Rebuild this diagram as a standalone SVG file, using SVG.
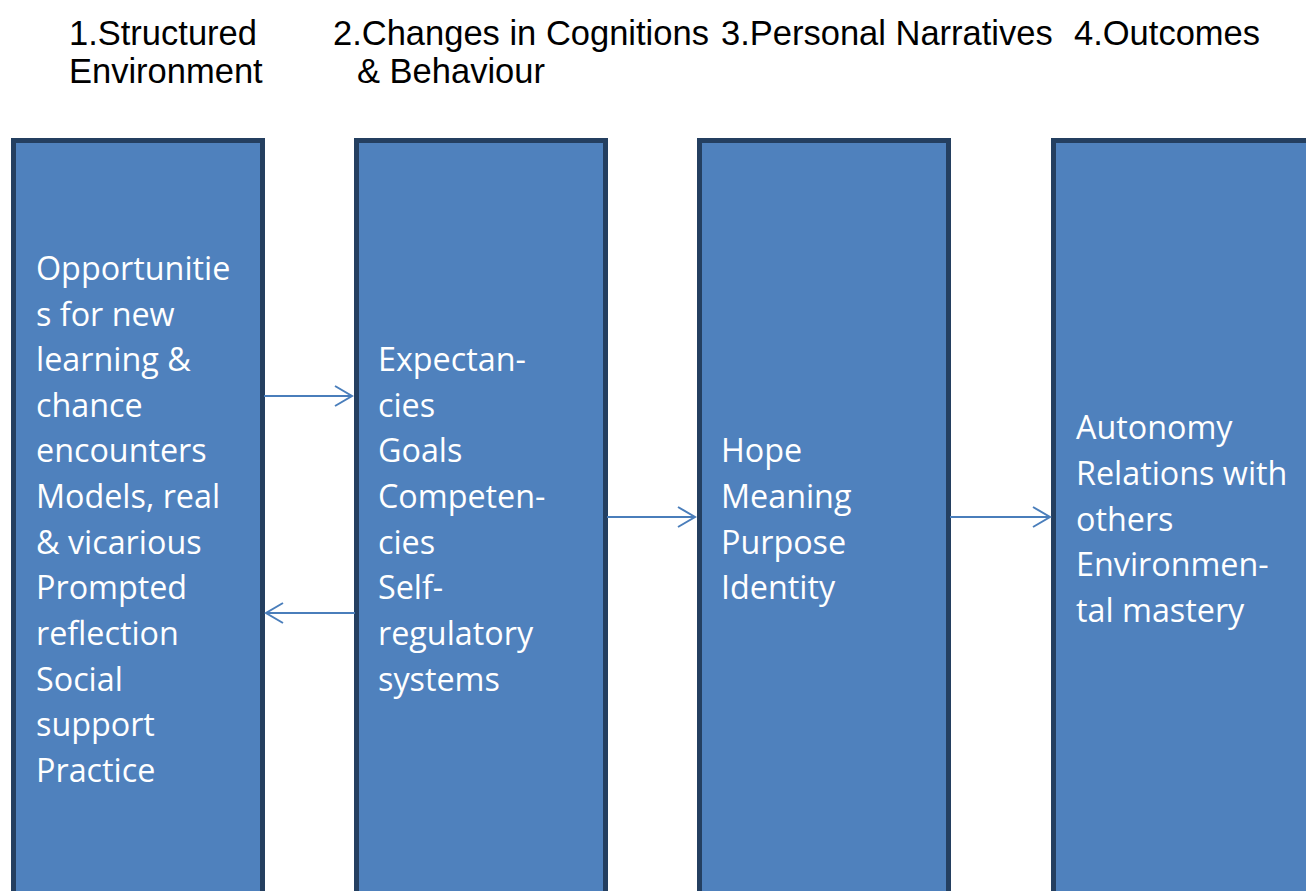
<svg xmlns="http://www.w3.org/2000/svg" width="1306" height="891" viewBox="0 0 1306 891">
<style>
.box{fill:#4F81BD;stroke:#243F60;stroke-width:5}
.t{font-family:"Open Sans","Liberation Sans",sans-serif;font-size:32.3px;fill:#FFFFFF}
.h{font-family:"Liberation Sans",Arial,sans-serif;font-size:34.5px;fill:#000000}
.c{stroke:#4A7EBB;stroke-width:2;fill:none}
</style>
<defs>
<marker id="ah" markerWidth="20" markerHeight="24" refX="18" refY="12" orient="auto" markerUnits="userSpaceOnUse">
<path d="M1,2 L18,12 L1,22" fill="none" stroke="#4A7EBB" stroke-width="2"/>
</marker>
</defs>
<rect width="1306" height="891" fill="#FFFFFF"/>
<g id="headers">
<text class="h" x="69" y="44.5">1.Structured</text>
<text class="h" x="69" y="83">Environment</text>
<text class="h" x="333" y="44.5">2.Changes in Cognitions</text>
<text class="h" x="357" y="83">&amp; Behaviour</text>
<text class="h" x="721" y="44.5">3.Personal Narratives</text>
<text class="h" x="1074" y="44.5">4.Outcomes</text>
</g>
<g id="node1">
<rect class="box" x="13.5" y="140.5" width="249" height="780"/>
<text class="t" x="36" y="280">Opportunitie</text>
<text class="t" x="36" y="326">s for new</text>
<text class="t" x="36" y="371">learning &amp;</text>
<text class="t" x="36" y="417">chance</text>
<text class="t" x="36" y="462">encounters</text>
<text class="t" x="36" y="508">Models, real</text>
<text class="t" x="36" y="554">&amp; vicarious</text>
<text class="t" x="36" y="599">Prompted</text>
<text class="t" x="36" y="645">reflection</text>
<text class="t" x="36" y="691">Social</text>
<text class="t" x="36" y="736">support</text>
<text class="t" x="36" y="782">Practice</text>
</g>
<g id="node2">
<rect class="box" x="356.5" y="140.5" width="249" height="780"/>
<text class="t" x="378" y="371">Expectan-</text>
<text class="t" x="378" y="417">cies</text>
<text class="t" x="378" y="462">Goals</text>
<text class="t" x="378" y="508">Competen-</text>
<text class="t" x="378" y="554">cies</text>
<text class="t" x="378" y="599">Self-</text>
<text class="t" x="378" y="645">regulatory</text>
<text class="t" x="378" y="691">systems</text>
</g>
<g id="node3">
<rect class="box" x="699.5" y="140.5" width="249" height="780"/>
<text class="t" x="721" y="462">Hope</text>
<text class="t" x="721" y="508">Meaning</text>
<text class="t" x="721" y="554">Purpose</text>
<text class="t" x="721" y="599">Identity</text>
</g>
<g id="node4">
<rect class="box" x="1053.5" y="140.5" width="300" height="780"/>
<text class="t" x="1076" y="439">Autonomy</text>
<text class="t" x="1076" y="485">Relations with</text>
<text class="t" x="1076" y="531">others</text>
<text class="t" x="1076" y="576">Environmen-</text>
<text class="t" x="1076" y="622">tal mastery</text>
</g>
<g id="connectors">
<line class="c" x1="264" y1="396" x2="352" y2="396" marker-end="url(#ah)"/>
<line class="c" x1="355" y1="613" x2="266" y2="613" marker-end="url(#ah)"/>
<line class="c" x1="607" y1="517" x2="695" y2="517" marker-end="url(#ah)"/>
<line class="c" x1="950" y1="517" x2="1050" y2="517" marker-end="url(#ah)"/>
</g>
</svg>
